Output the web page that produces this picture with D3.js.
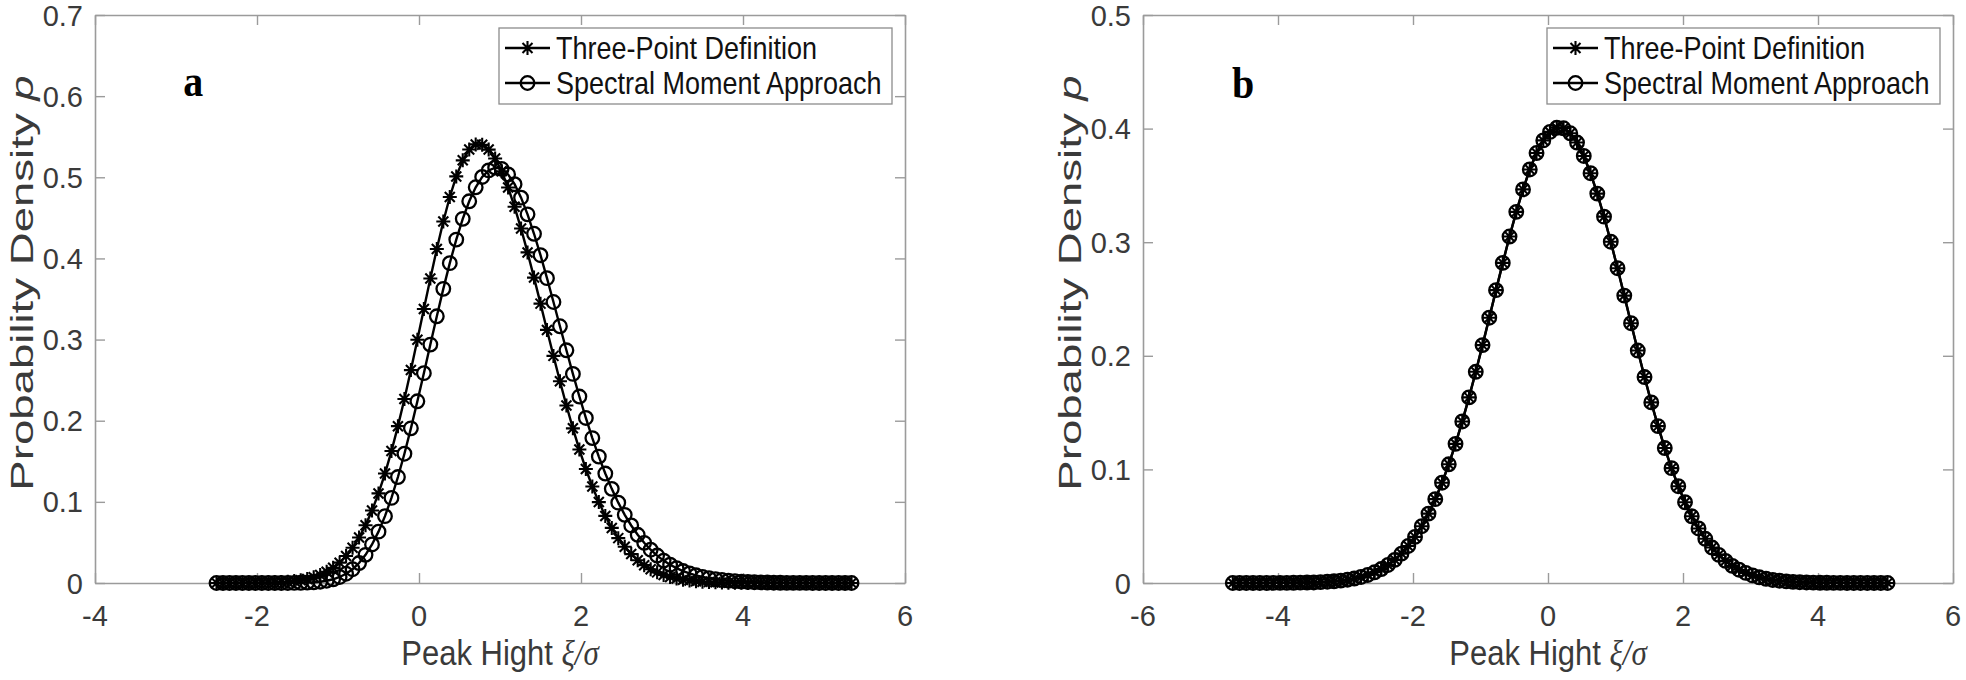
<!DOCTYPE html>
<html><head><meta charset="utf-8">
<script src="https://cdn.jsdelivr.net/npm/d3@7"></script>
<style>body{margin:0;background:#fff} svg{display:block}</style>
</head><body><svg id="chart" width="1966" height="680"></svg>
<script>
// ---------- DATA ----------
const xA = [
-2.50,-2.42,-2.34,-2.26,-2.18,-2.10,-2.02,-1.94,-1.86,-1.78,
-1.70,-1.62,-1.54,-1.46,-1.38,-1.30,-1.22,-1.14,-1.06,-0.98,
-0.90,-0.82,-0.74,-0.66,-0.58,-0.50,-0.42,-0.34,-0.26,-0.18,
-0.10,-0.02,0.06,0.14,0.22,0.30,0.38,0.46,0.54,0.62,
0.70,0.78,0.86,0.94,1.02,1.10,1.18,1.26,1.34,1.42,
1.50,1.58,1.66,1.74,1.82,1.90,1.98,2.06,2.14,2.22,
2.30,2.38,2.46,2.54,2.62,2.70,2.78,2.86,2.94,3.02,
3.10,3.18,3.26,3.34,3.42,3.50,3.58,3.66,3.74,3.82,
3.90,3.98,4.06,4.14,4.22,4.30,4.38,4.46,4.54,4.62,
4.70,4.78,4.86,4.94,5.02,5.10,5.18,5.26,5.34];
const aThreePoint = [
0,0,0,0,0.0001,0.0001,0.0002,0.0003,0.0005,0.0007,
0.0011,0.0016,0.0024,0.0035,0.0050,0.0071,0.0100,0.0138,0.0187,0.0251,
0.0332,0.0434,0.0560,0.0711,0.0893,0.1104,0.1349,0.1626,0.1933,0.2268,
0.2624,0.2997,0.3376,0.3753,0.4117,0.4456,0.4757,0.5011,0.5209,0.5342,
0.5405,0.5400,0.5341,0.5231,0.5074,0.4875,0.4636,0.4368,0.4074,0.3764,
0.3443,0.3119,0.2799,0.2487,0.2187,0.1906,0.1645,0.1405,0.1189,0.0997,
0.0827,0.0679,0.0553,0.0446,0.0356,0.0281,0.0220,0.0170,0.0131,0.0100,
0.0075,0.0056,0.0041,0.0030,0.0022,0.0016,0.0011,0.0008,0.0005,0.0004,
0.0002,0.0002,0.0001,0.0001,0.0001,0,0,0,0,0,
0,0,0,0,0,0,0,0,0];
const aSpectral = [
0,0,0,0,0,0,0,0,0,0,
0,0,0.0001,0.0003,0.0005,0.0009,0.0016,0.0028,0.0046,0.0074,
0.0114,0.0170,0.0246,0.0347,0.0475,0.0633,0.0824,0.1049,0.1306,0.1593,
0.1906,0.2239,0.2586,0.2938,0.3287,0.3625,0.3942,0.4232,0.4488,0.4704,
0.4877,0.5004,0.5085,0.5119,0.5104,0.5035,0.4915,0.4749,0.4543,0.4304,
0.4040,0.3757,0.3463,0.3164,0.2868,0.2577,0.2298,0.2034,0.1786,0.1558,
0.1349,0.1160,0.0990,0.0840,0.0709,0.0594,0.0495,0.0410,0.0338,0.0276,
0.0225,0.0183,0.0147,0.0118,0.0095,0.0075,0.0060,0.0047,0.0037,0.0029,
0.0022,0.0017,0.0013,0.0010,0.0008,0.0006,0.0004,0.0003,0.0002,0.0002,
0.0001,0.0001,0,0,0,0,0,0,0];
const xB = [
-4.67,-4.57,-4.47,-4.37,-4.27,-4.17,-4.07,-3.97,-3.87,-3.77,
-3.67,-3.57,-3.47,-3.37,-3.27,-3.17,-3.07,-2.97,-2.87,-2.77,
-2.67,-2.57,-2.47,-2.37,-2.27,-2.17,-2.07,-1.97,-1.87,-1.77,
-1.67,-1.57,-1.47,-1.37,-1.27,-1.17,-1.07,-0.97,-0.87,-0.77,
-0.67,-0.57,-0.47,-0.37,-0.27,-0.17,-0.07,0.03,0.13,0.23,
0.33,0.43,0.53,0.63,0.73,0.83,0.93,1.03,1.13,1.23,
1.33,1.43,1.53,1.63,1.73,1.83,1.93,2.03,2.13,2.23,
2.33,2.43,2.53,2.63,2.73,2.83,2.93,3.03,3.13,3.23,
3.33,3.43,3.53,3.63,3.73,3.83,3.93,4.03,4.13,4.23,
4.33,4.43,4.53,4.63,4.73,4.83,4.93,5.03];
const bThreePoint = [
0,0,0,0,0,0,0.0001,0.0001,0.0001,0.0002,
0.0003,0.0004,0.0005,0.0008,0.0011,0.0015,0.0021,0.0029,0.0039,0.0053,
0.0071,0.0094,0.0123,0.0159,0.0204,0.0259,0.0326,0.0406,0.0500,0.0611,
0.0738,0.0883,0.1045,0.1225,0.1422,0.1634,0.1859,0.2094,0.2335,0.2578,
0.2818,0.3050,0.3267,0.3465,0.3640,0.3785,0.3896,0.3971,0.4007,0.4003,
0.3959,0.3877,0.3759,0.3607,0.3428,0.3225,0.3004,0.2771,0.2530,0.2287,
0.2046,0.1813,0.1590,0.1381,0.1188,0.1011,0.0852,0.0711,0.0587,0.0480,
0.0389,0.0312,0.0248,0.0195,0.0151,0.0117,0.0089,0.0067,0.0050,0.0037,
0.0027,0.0020,0.0014,0.0010,0.0007,0.0005,0.0003,0.0002,0.0002,0.0001,
0.0001,0,0,0,0,0,0,0];
const bSpectral = [
0,0,0,0,0,0,0.0001,0.0001,0.0001,0.0002,
0.0003,0.0004,0.0005,0.0008,0.0011,0.0015,0.0021,0.0029,0.0039,0.0053,
0.0071,0.0094,0.0123,0.0159,0.0204,0.0259,0.0326,0.0406,0.0500,0.0611,
0.0738,0.0883,0.1045,0.1225,0.1422,0.1634,0.1859,0.2094,0.2335,0.2578,
0.2818,0.3050,0.3267,0.3465,0.3640,0.3785,0.3896,0.3971,0.4007,0.4003,
0.3959,0.3877,0.3759,0.3607,0.3428,0.3225,0.3004,0.2771,0.2530,0.2287,
0.2046,0.1813,0.1590,0.1381,0.1188,0.1011,0.0852,0.0711,0.0587,0.0480,
0.0389,0.0312,0.0248,0.0195,0.0151,0.0117,0.0089,0.0067,0.0050,0.0037,
0.0027,0.0020,0.0014,0.0010,0.0007,0.0005,0.0003,0.0002,0.0002,0.0001,
0.0001,0,0,0,0,0,0,0];
const xTicksA = [-4,-2,0,2,4,6];
const yTicksA = [0,0.1,0.2,0.3,0.4,0.5,0.6,0.7];
const xTicksB = [-6,-4,-2,0,2,4,6];
const yTicksB = [0,0.1,0.2,0.3,0.4,0.5];
const seriesNames = ["Three-Point Definition","Spectral Moment Approach"];
const panelTags = ["a","b"];
const xLabelText = "Peak Hight ";
const xLabelSym = "\u03BE/\u03C3";
const yLabelText = "Probability Density ";
const yLabelSym = "p";

// ---------- LAYOUT ----------
const W = 1966, H = 680;
const TOP = 15, BOTTOM = 583;
const SANS = "'Liberation Sans', Arial, Helvetica, sans-serif";
const SERIF = "'Liberation Serif', 'Times New Roman', serif";
const AX = "#9b9b9b", TXT = "#3a3a3a";
const TICK_FS = 29, TICK_SY = 1.0;
const XLAB_FS = 31, XLAB_SY = 1.15;
const YLAB_FS = 31, YLAB_S = 1.47;
const LEG_FS = 27, LEG_SY = 1.18;

const svg = d3.select("#chart");
svg.append("rect").attr("width", W).attr("height", H).attr("fill", "#fff");

const panels = [
  {x: xA, s: [aThreePoint, aSpectral], xDom: [-4, 6], yDom: [0, 0.7], xr: [95, 905],
   xt: xTicksA, yt: yTicksA, tag: panelTags[0], tagAt: [-2.91, 0.60], ylabX: 33, ylabY: 283},
  {x: xB, s: [bThreePoint, bSpectral], xDom: [-6, 6], yDom: [0, 0.5], xr: [1143, 1953],
   xt: xTicksB, yt: yTicksB, tag: panelTags[1], tagAt: [-4.68, 0.427], ylabX: 1081, ylabY: 283}
];

const starPath = "M-7,0H7M0,-7V7M-5,-5L5,5M-5,5L5,-5";

function txt(parent, s, px, py, anchor, fs, sx, sy, extra) {
  return parent.append("text")
    .attr("transform", `translate(${px},${py}) ${extra || ""} scale(${sx},${sy})`)
    .attr("text-anchor", anchor)
    .style("font-family", SANS).style("font-size", fs + "px").attr("fill", TXT)
    .text(s);
}

function drawMarker(g, type, cx, cy) {
  if (type === 0) {
    g.append("path").attr("d", starPath).attr("transform", `translate(${cx},${cy})`)
      .attr("stroke", "#000").attr("stroke-width", 2.1).attr("fill", "none");
  } else {
    g.append("circle").attr("cx", cx).attr("cy", cy).attr("r", 6.8)
      .attr("stroke", "#000").attr("stroke-width", 2.3).attr("fill", "none");
  }
}

panels.forEach(p => {
  const x = d3.scaleLinear().domain(p.xDom).range(p.xr);
  const y = d3.scaleLinear().domain(p.yDom).range([BOTTOM, TOP]);
  const g = svg.append("g");
  const x0 = p.xr[0], x1 = p.xr[1];

  // axes (box with inward ticks)
  const axes = g.append("g");
  axes.append("g").attr("transform", `translate(0,${BOTTOM})`)
    .call(d3.axisBottom(x).tickValues(p.xt).tickSize(-10).tickSizeOuter(0).tickFormat(""));
  axes.append("g").attr("transform", `translate(0,${TOP})`)
    .call(d3.axisTop(x).tickValues(p.xt).tickSize(-10).tickSizeOuter(0).tickFormat(""));
  axes.append("g").attr("transform", `translate(${x0},0)`)
    .call(d3.axisLeft(y).tickValues(p.yt).tickSize(-10).tickSizeOuter(0).tickFormat(""));
  axes.append("g").attr("transform", `translate(${x1},0)`)
    .call(d3.axisRight(y).tickValues(p.yt).tickSize(-10).tickSizeOuter(0).tickFormat(""));
  axes.selectAll(".domain").attr("stroke", AX).attr("stroke-width", 1.6);
  axes.selectAll(".tick line").attr("stroke", AX).attr("stroke-width", 1.4);

  // tick labels
  p.xt.forEach(v => txt(g, String(v), x(v), 626, "middle", TICK_FS, 1, TICK_SY));
  p.yt.forEach(v => txt(g, v === 0 ? "0" : d3.format(".1f")(v), x0 - 12, y(v) + 10.5, "end", TICK_FS, 1, TICK_SY));

  // axis labels
  const xl = txt(g, xLabelText, (x0 + x1) / 2, 665, "middle", XLAB_FS, 1, XLAB_SY);
  xl.append("tspan").style("font-family", SERIF).style("font-style", "italic").text(xLabelSym);
  const yl = txt(g, yLabelText, p.ylabX, p.ylabY, "middle", YLAB_FS, YLAB_S, 1, "rotate(-90)");
  yl.append("tspan").style("font-style", "italic").text(yLabelSym);

  // series
  p.s.forEach((vals, si) => {
    const pts = p.x.map((xv, i) => [x(xv), y(vals[i])]);
    g.append("path").attr("d", d3.line()(pts)).attr("fill", "none")
      .attr("stroke", "#000").attr("stroke-width", 2.4);
    const mg = g.append("g");
    pts.forEach(pt => drawMarker(mg, si, pt[0], pt[1]));
  });

  // panel tag
  g.append("text").attr("transform", `translate(${x(p.tagAt[0])},${y(p.tagAt[1])}) scale(1,1.1)`)
    .style("font-family", SERIF).style("font-weight", "bold").style("font-size", "40px")
    .attr("fill", "#000").text(p.tag);

  // legend
  const lw = 393, lh = 76, lx = x1 - 13 - lw, ly = 28;
  const lg = g.append("g");
  lg.append("rect").attr("x", lx).attr("y", ly).attr("width", lw).attr("height", lh)
    .attr("fill", "#fff").attr("stroke", "#8c8c8c").attr("stroke-width", 1.3);
  seriesNames.forEach((name, si) => {
    const ry = ly + 20 + si * 35;
    lg.append("line").attr("x1", lx + 6).attr("x2", lx + 51).attr("y1", ry).attr("y2", ry)
      .attr("stroke", "#000").attr("stroke-width", 2.4);
    drawMarker(lg, si, lx + 28.5, ry);
    lg.append("text").attr("transform", `translate(${lx + 57},${ry + 11}) scale(1,${LEG_SY})`)
      .style("font-family", SANS).style("font-size", LEG_FS + "px").attr("fill", "#111").text(name);
  });
});
</script></body></html>
